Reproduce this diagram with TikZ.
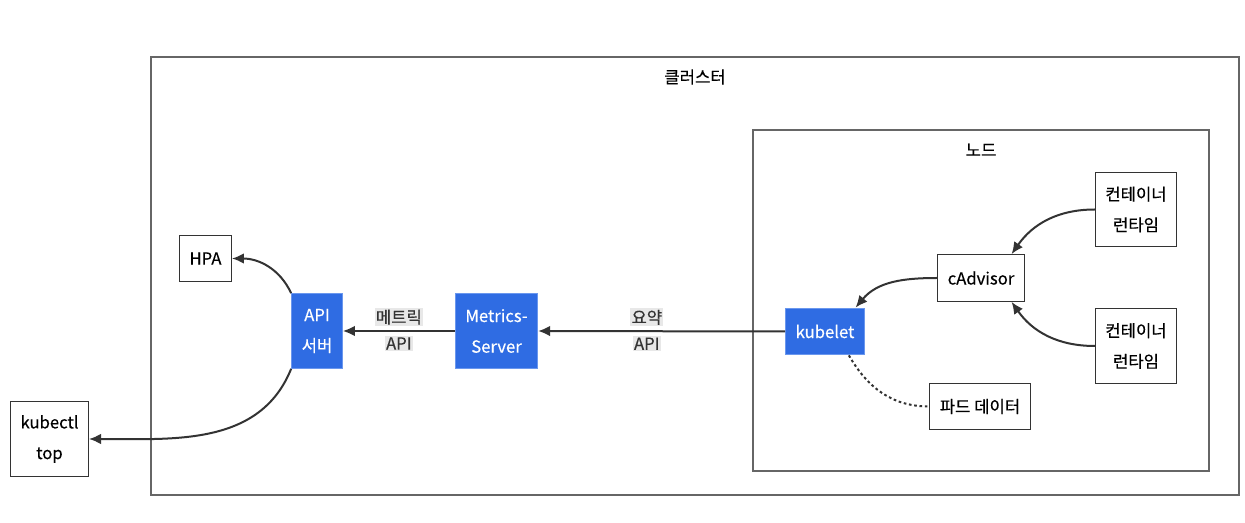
\documentclass[tikz,border=0pt]{standalone}
\usepackage{fontspec}
\setmainfont{Noto Sans CJK KR}[FakeBold=0.35]
\usetikzlibrary{arrows.meta}
\definecolor{kblue}{HTML}{2F6CE3}
\definecolor{kblueline}{HTML}{6A97EE}
\definecolor{edgegray}{HTML}{333333}
\definecolor{lblgray}{HTML}{E8E8E8}
\definecolor{framegray}{HTML}{666666}

\begin{document}
\begin{tikzpicture}[x=0.75pt, y=0.75pt,
        font=\fontsize{12.5}{23}\selectfont,
        box/.style={draw=edgegray, line width=0.8pt, fill=white, align=center, inner xsep=7.5pt, inner ysep=2pt, minimum height=35pt},
        tall/.style={minimum height=56pt},
        bluebox/.style={box, draw=kblueline, fill=kblue, text=white},
        flow/.style={draw=edgegray, line width=1.5pt, -{Latex[length=9pt,width=8pt]}},
        lbl/.style={fill=lblgray, text=edgegray, inner sep=1pt},
        clusterframe/.style={draw=framegray, line width=1.1pt}]
                \useasboundingbox (0,0) rectangle (1245,-523);
                % groups
                \draw [clusterframe] (151,-57) rectangle (1239,-495);
                \node (clustertitle) at (695,-77) {클러스터};
                \draw [clusterframe] (753,-130) rectangle (1209,-471);
                \node (nodetitle) at (981,-150) {노드};
                % boxes
                \node [box] (hpa) at (205.5,-258.5) {HPA};
                \node [bluebox, tall] (api) at (317,-331) {API\\서버};
                \node [box, tall] (kubectl) at (49.5,-439) {kubectl\\top};
                \node [bluebox, tall] (metrics) at (496.5,-331) {Metrics-\\Server};
                \node [bluebox] (kubelet) at (825,-331.5) {kubelet};
                \node [box] (cadvisor) at (981,-278) {cAdvisor};
                \node [box, tall] (crtop) at (1136,-209.5) {컨테이너\\런타임};
                \node [box, tall] (crbot) at (1136,-346) {컨테이너\\런타임};
                \node [box] (pod) at (980,-406.5) {파드 데이터};
                % arrows
                \draw [flow] (api.north west) to [out=115, in=0] (hpa.east);
                \draw [flow] (api.south west) to [out=-112, in=0] (kubectl.east);
                \draw [flow] (metrics.west) -- (api.east)
                        node [lbl, midway, above=3pt] {메트릭}
                        node [lbl, midway, below=3pt] {API};
                \draw [flow] (kubelet.west) -- (metrics.east)
                        node [lbl, pos=.56, above=3pt] {요약}
                        node [lbl, pos=.56, below=3pt] {API};
                \draw [flow] (cadvisor.west) to [out=180, in=50] (kubelet.38);
                \draw [flow] (crtop.west) to [out=180, in=55] (cadvisor.38);
                \draw [flow] (crbot.west) to [out=180, in=-55] (cadvisor.-38);
                \draw [draw=edgegray, line width=1.5pt, dash pattern=on 2pt off 2pt] (kubelet.-45) to [out=-60, in=180] (pod.west);
\end{tikzpicture}
\end{document}
